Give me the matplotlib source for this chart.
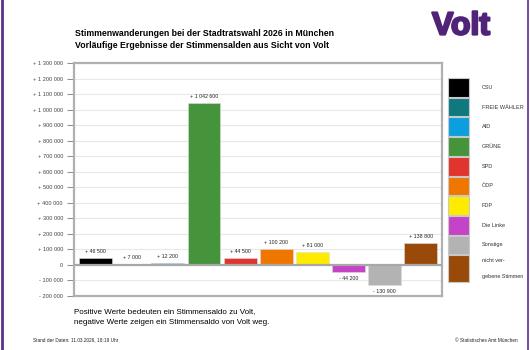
#Import packages
import matplotlib
matplotlib.use('Agg')
import matplotlib.pyplot as plt
import matplotlib.patheffects as pe
from matplotlib.patches import Rectangle
from matplotlib.lines import Line2D

#Data
parties = ['CSU', 'FREIE WÄHLER', 'AfD', 'GRÜNE', 'SPD', 'ÖDP', 'FDP', 'Die Linke', 'Sonstige',
           'nicht vergebene Stimmen']
saldo = [46500, 7000, 12200, 1042600, 44500, 100200, 81000, -44200, -130900, 138800]
colors = ['#000000', '#0e7a80', '#0b9fe0', '#45943b', '#e2342e', '#ef7700', '#ffeb00', '#c443c6',
          '#b3b3b3', '#9a4a08']
legend_labels = ['CSU', 'FREIE WÄHLER', 'AfD', 'GRÜNE', 'SPD', 'ÖDP', 'FDP', 'Die Linke', 'Sonstige',
                 'nicht ver-\n\ngebene Stimmen']
yticks = list(range(-200000, 1300001, 100000))

#Formatting helpers
def fmt(v):
	s = '{:,}'.format(abs(v)).replace(',', ' ')
	if v > 0:
		return '+ ' + s
	if v < 0:
		return '- ' + s
	return '0'

#Main script
def main():
	plt.rcParams['font.family'] = ['Liberation Sans', 'DejaVu Sans']
	fig = plt.figure(figsize=(5.3, 3.5), dpi=100)
	W, H = 530.0, 350.0

	#Axes placed in pixel coords
	ax = fig.add_axes([74 / W, 1 - 296 / H, (442 - 74) / W, (296 - 63) / H])
	x = list(range(len(parties)))
	ax.bar(x, saldo, width=0.91, color=colors, edgecolor='#dddddd', linewidth=0.4, zorder=3)
	for xi, v in zip(x, saldo):
		off = 3 if v >= 0 else -3
		ax.annotate(fmt(v), (xi, v), xytext=(0, off), textcoords='offset points',
		            ha='center', va='bottom' if v >= 0 else 'top', fontsize=3.8, color='#222222')

	ax.set_xlim(-0.6, 9.59)
	ax.set_ylim(-200000, 1300000)
	ax.set_yticks(yticks)
	ax.set_yticklabels([fmt(t) for t in yticks])
	ax.set_xticks([])
	ax.tick_params(axis='y', length=5, width=0.6, color='#777777', labelsize=4.1, labelcolor='#444444', pad=3)
	ax.grid(axis='y', color='#e8e8e8', linewidth=0.8, zorder=0)
	ax.axhline(0, color='#a8a8a8', linewidth=1.6, zorder=4)
	for s in ax.spines.values():
		s.set_color('#b0b0b0')
		s.set_linewidth(1.6)

	#Titles
	fig.text(75 / W, 1 - 34 / H, 'Stimmenwanderungen bei der Stadtratswahl 2026 in München',
	         fontsize=6.3, fontweight='bold', va='center')
	fig.text(75 / W, 1 - 46 / H, 'Vorläufige Ergebnisse der Stimmensalden aus Sicht von Volt',
	         fontsize=6.3, fontweight='bold', va='center')

	#Volt logo
	fig.text(461 / W, 1 - 34.5 / H, 'Volt', fontsize=23, fontweight='bold', color='#502379',
	         ha='center', va='baseline',
	         path_effects=[pe.withStroke(linewidth=1.6, foreground='#502379')])

	#Legend
	box_top = 78
	step = 19.7
	for i, (c, lab) in enumerate(zip(colors, legend_labels)):
		top = box_top + i * step
		h = step - 1 if i < len(colors) - 1 else 26.5
		fig.patches.append(Rectangle((448 / W, 1 - (top + h) / H), 21 / W, h / H,
		                             transform=fig.transFigure, facecolor=c,
		                             edgecolor='#c8c8c8', linewidth=0.8))
		fig.text(482 / W, 1 - (top + h / 2) / H, lab, fontsize=4, color='#333333',
		         va='center', linespacing=1.7)

	#Notes
	fig.text(74 / W, 1 - 312 / H, 'Positive Werte bedeuten ein Stimmensaldo zu Volt,',
	         fontsize=5.8, va='center')
	fig.text(74 / W, 1 - 323 / H, 'negative Werte zeigen ein Stimmensaldo von Volt weg.',
	         fontsize=5.8, va='center')
	fig.text(33 / W, 1 - 340 / H, 'Stand der Daten: 11.03.2026, 18:19 Uhr', fontsize=3.4,
	         va='center', color='#222222')
	fig.text(518 / W, 1 - 340 / H, '© Statistisches Amt München', fontsize=3.4,
	         va='center', ha='right', color='#222222')

	#Purple border lines
	fig.lines.append(Line2D([1.5 / W, 1.5 / W], [0, 1], transform=fig.transFigure,
	                        color='#5e2d8c', linewidth=2))
	fig.lines.append(Line2D([527.5 / W, 527.5 / W], [0, 1], transform=fig.transFigure,
	                        color='#5e2d8c', linewidth=1.2))

	fig.savefig('out.png', dpi=100)

#Execute main script
if __name__ == '__main__':
	main()
